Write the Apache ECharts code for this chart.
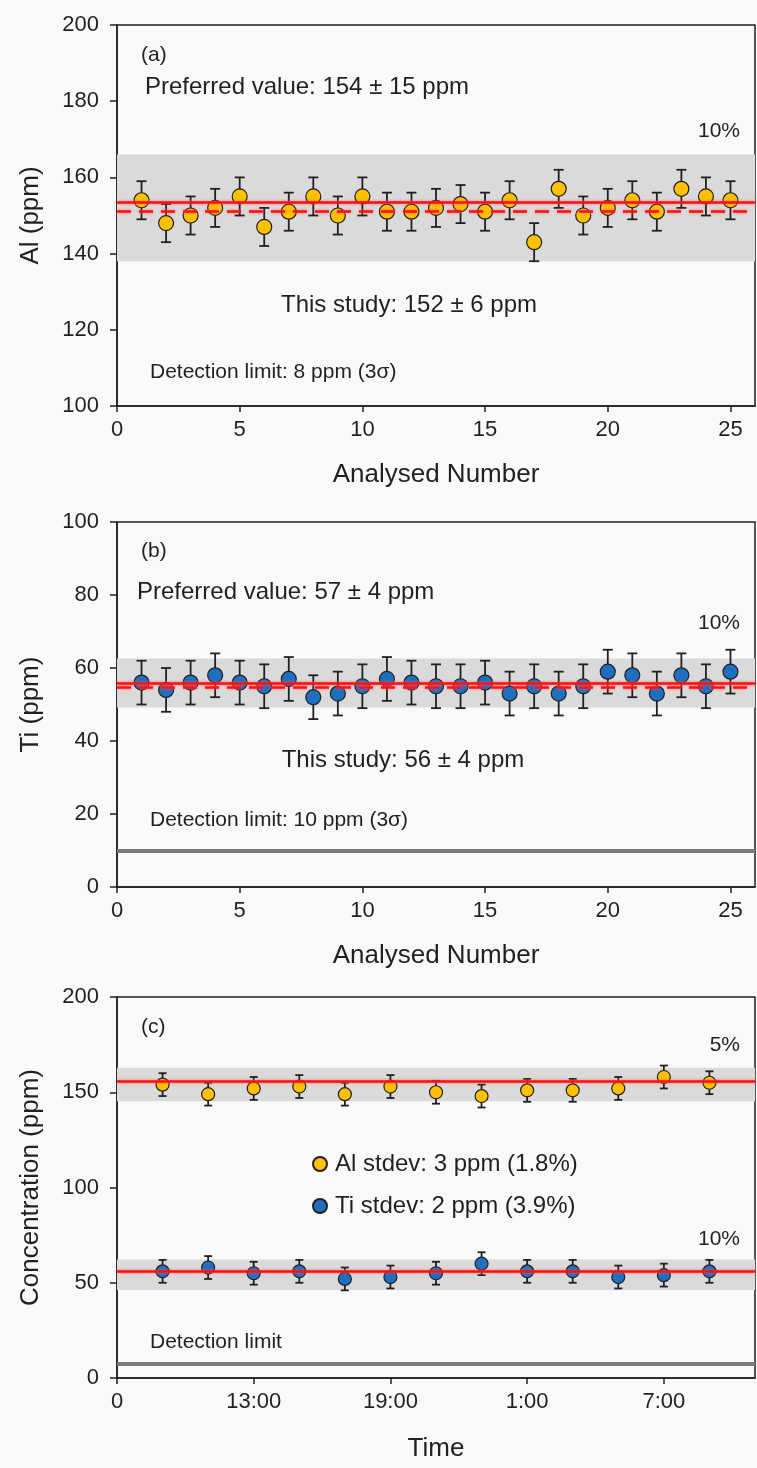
<!DOCTYPE html>
<html>
<head>
<meta charset="utf-8">
<title>Al and Ti repeat analyses</title>
<script src="https://cdn.jsdelivr.net/npm/echarts@6/dist/echarts.min.js"></script>
<style>
  html, body { margin: 0; padding: 0; background: #f9f9f9; }
  #chart { width: 757px; height: 1468px; }
</style>
</head>
<body>
<div id="chart"></div>
<script>
// Panels (a) and (b): 25 repeat analyses, panel (c): one analysis every 2 h.
var analysisNumber = [1, 2, 3, 4, 5, 6, 7, 8, 9, 10, 11, 12, 13, 14, 15, 16, 17, 18, 19, 20, 21, 22, 23, 24, 25];
var alValues = [154, 148, 150, 152, 155, 147, 151, 155, 150, 155, 151, 151, 152, 153, 151, 154, 143, 157, 150, 152, 154, 151, 157, 155, 154];
var alErrors = [5, 5, 5, 5, 5, 5, 5, 5, 5, 5, 5, 5, 5, 5, 5, 5, 5, 5, 5, 5, 5, 5, 5, 5, 5];
var tiValues = [56, 54, 56, 58, 56, 55, 57, 52, 53, 55, 57, 56, 55, 55, 56, 53, 55, 53, 55, 59, 58, 53, 58, 55, 59];
var tiErrors = [6, 6, 6, 6, 6, 6, 6, 6, 6, 6, 6, 6, 6, 6, 6, 6, 6, 6, 6, 6, 6, 6, 6, 6, 6];

// hours after the start of the session (0 = 7:00)
var timeHours = [2, 4, 6, 8, 10, 12, 14, 16, 18, 20, 22, 24, 26];
var alTimeValues = [154, 149, 152, 153, 149, 153, 150, 148, 151, 151, 152, 158, 155];
var alTimeErrors = [6, 6, 6, 6, 6, 6, 6, 6, 6, 6, 6, 6, 6];
var tiTimeValues = [56, 58, 55, 56, 52, 53, 55, 60, 56, 56, 53, 54, 56];
var tiTimeErrors = [6, 6, 6, 6, 6, 6, 6, 6, 6, 6, 6, 6, 6];

// reference lines and bands
var alPreferred = 153.5;
var alStudy = 151.2;
var alBand = [138, 166];
var tiPreferred = 55.7;
var tiStudy = 54.6;
var tiBand = [49.2, 62.6];
var tiDetection = 10;
var alTimeMean = 156;
var alTimeBand = [145.3, 162.9];
var tiTimeMean = 56;
var tiTimeBand = [46.2, 62.2];
var timeDetection = 7.5;

// tick labels
var numberTicks = [0, 5, 10, 15, 20, 25];
var timeTickValues = [0, 6, 12, 18, 24];
var timeTickLabels = ['0', '13:00', '19:00', '1:00', '7:00'];
var alTicks = [100, 120, 140, 160, 180, 200];
var tiTicks = [0, 20, 40, 60, 80, 100];
var concTicks = [0, 50, 100, 150, 200];

var legendNames = ['Al stdev: 3 ppm (1.8%)', 'Ti stdev: 2 ppm (3.9%)'];

var FONT = '"Liberation Sans", Arial, sans-serif';
var INK = '#231f20';
var YELLOW = '#ffc000';
var BLUE = '#1f6fc0';
var RED = '#ff1010';
var BAND = '#dadada';

function zip3(xs, ys, es) {
  var out = [];
  for (var i = 0; i < xs.length; i++) out.push([xs[i], ys[i], es[i]]);
  return out;
}

function xAxisFor(gridIndex, max, ticks, labels, name, gap) {
  return {
    type: 'value', gridIndex: gridIndex, min: 0, max: max,
    name: name, nameLocation: 'middle', nameGap: gap,
    nameTextStyle: { fontFamily: FONT, fontSize: 26, color: INK },
    axisLine: { onZero: false, lineStyle: { color: INK, width: 1.5 } },
    axisTick: { inside: false, length: 6, customValues: ticks, lineStyle: { color: INK, width: 1.5 } },
    axisLabel: {
      customValues: ticks, margin: 13, fontFamily: FONT, fontSize: 22, color: INK,
      formatter: function (v) {
        if (!labels) return String(v);
        var i = ticks.indexOf(v);
        return i < 0 ? '' : labels[i];
      }
    },
    splitLine: { show: false }
  };
}

function yAxisFor(gridIndex, ticks, name) {
  return {
    type: 'value', gridIndex: gridIndex,
    min: ticks[0], max: ticks[ticks.length - 1], interval: ticks[1] - ticks[0],
    name: name, nameLocation: 'middle', nameGap: 73,
    nameTextStyle: { fontFamily: FONT, fontSize: 26, color: INK },
    axisLine: { onZero: false, lineStyle: { color: INK, width: 1.5 } },
    axisTick: { inside: false, length: 7, lineStyle: { color: INK, width: 1.5 } },
    axisLabel: { margin: 18, fontFamily: FONT, fontSize: 22, color: INK },
    splitLine: { show: false }
  };
}

// background band + horizontal lines, carried by an invisible series
function refSeries(gridIndex, bands, lines) {
  return {
    type: 'scatter', xAxisIndex: gridIndex, yAxisIndex: gridIndex,
    data: [], symbolSize: 0, silent: true, z: 1,
    markArea: {
      silent: true,
      itemStyle: { color: BAND, opacity: 1 },
      data: bands.map(function (b) { return [{ yAxis: b[0] }, { yAxis: b[1] }]; })
    },
    markLine: {
      silent: true, symbol: 'none', animation: false,
      label: { show: false },
      data: lines
    }
  };
}

function redLine(v, dashed) {
  return {
    yAxis: v,
    lineStyle: {
      color: RED, width: 2.5, type: dashed ? [14, 8] : 'solid',
      shadowColor: 'rgba(255,90,90,0.9)', shadowBlur: 3
    }
  };
}

function greyLine(v) {
  return { yAxis: v, lineStyle: { color: '#7a7a7a', width: 4, type: 'solid' } };
}

function errorSeries(gridIndex, data, cap) {
  return {
    type: 'custom', xAxisIndex: gridIndex, yAxisIndex: gridIndex,
    data: data, z: 3, silent: true,
    encode: { x: 0, y: 1 },
    renderItem: function (params, api) {
      var x = api.value(0), y = api.value(1), e = api.value(2);
      var hi = api.coord([x, y + e]);
      var lo = api.coord([x, y - e]);
      var st = { stroke: INK, lineWidth: 1.8 };
      return {
        type: 'group',
        children: [
          { type: 'line', shape: { x1: hi[0], y1: hi[1], x2: lo[0], y2: lo[1] }, style: st },
          { type: 'line', shape: { x1: hi[0] - cap, y1: hi[1], x2: hi[0] + cap, y2: hi[1] }, style: st },
          { type: 'line', shape: { x1: lo[0] - cap, y1: lo[1], x2: lo[0] + cap, y2: lo[1] }, style: st }
        ]
      };
    }
  };
}

function pointSeries(gridIndex, name, xs, ys, color, size) {
  return {
    type: 'scatter', name: name, xAxisIndex: gridIndex, yAxisIndex: gridIndex,
    data: xs.map(function (x, i) { return [x, ys[i]]; }),
    symbol: 'circle', symbolSize: size, z: 4,
    itemStyle: { color: color, borderColor: INK, borderWidth: 1.2, opacity: 1 }
  };
}

function txt(x, y, text, size, align) {
  return {
    type: 'text', x: x, y: y, z: 50,
    style: {
      text: text, fontFamily: FONT, fontSize: size, fill: INK,
      align: align || 'left', verticalAlign: 'middle'
    }
  };
}

var chart = echarts.init(document.getElementById('chart'), null, { renderer: 'canvas' });

var gridBase = { left: 117, right: 2, show: true, borderColor: INK, borderWidth: 1.5, backgroundColor: 'transparent' };

chart.setOption({
  backgroundColor: '#f9f9f9',
  animation: false,
  grid: [
    Object.assign({ top: 25, height: 381 }, gridBase),
    Object.assign({ top: 522, height: 365 }, gridBase),
    Object.assign({ top: 997, height: 381 }, gridBase)
  ],
  xAxis: [
    xAxisFor(0, 26, numberTicks, null, 'Analysed Number', 56),
    xAxisFor(1, 26, numberTicks, null, 'Analysed Number', 56),
    xAxisFor(2, 28, timeTickValues, timeTickLabels, 'Time', 58)
  ],
  yAxis: [
    yAxisFor(0, alTicks, 'Al (ppm)'),
    yAxisFor(1, tiTicks, 'Ti (ppm)'),
    yAxisFor(2, concTicks, 'Concentration (ppm)')
  ],
  legend: {
    data: legendNames, orient: 'vertical', left: 307, top: 1147,
    itemWidth: 14, itemHeight: 14, itemGap: 18, icon: 'circle', selectedMode: false,
    textStyle: { fontFamily: FONT, fontSize: 24, color: INK, padding: [0, 0, 0, 3] }
  },
  series: [
    // (a) Al
    refSeries(0, [alBand], [redLine(alStudy, true), redLine(alPreferred, false)]),
    errorSeries(0, zip3(analysisNumber, alValues, alErrors), 5),
    pointSeries(0, 'Al', analysisNumber, alValues, YELLOW, 15),
    // (b) Ti
    refSeries(1, [tiBand], [greyLine(tiDetection), redLine(tiStudy, true), redLine(tiPreferred, false)]),
    errorSeries(1, zip3(analysisNumber, tiValues, tiErrors), 5),
    pointSeries(1, 'Ti', analysisNumber, tiValues, BLUE, 15),
    // (c) time series
    refSeries(2, [alTimeBand, tiTimeBand], [greyLine(timeDetection), redLine(alTimeMean, false), redLine(tiTimeMean, false)]),
    errorSeries(2, zip3(timeHours, alTimeValues, alTimeErrors), 4),
    errorSeries(2, zip3(timeHours, tiTimeValues, tiTimeErrors), 4),
    pointSeries(2, legendNames[0], timeHours, alTimeValues, YELLOW, 13),
    pointSeries(2, legendNames[1], timeHours, tiTimeValues, BLUE, 13)
  ],
  graphic: [
    txt(141, 55, '(a)', 21),
    txt(145, 87, 'Preferred value: 154 \u00b1 15 ppm', 24),
    txt(740, 131, '10%', 21, 'right'),
    txt(409, 305, 'This study: 152 \u00b1 6 ppm', 24, 'center'),
    txt(150, 372, 'Detection limit: 8 ppm (3\u03c3)', 21),

    txt(141, 551, '(b)', 21),
    txt(137, 592, 'Preferred value: 57 \u00b1 4 ppm', 24),
    txt(740, 623, '10%', 21, 'right'),
    txt(403, 760, 'This study: 56 \u00b1 4 ppm', 24, 'center'),
    txt(150, 820, 'Detection limit: 10 ppm (3\u03c3)', 21),

    txt(141, 1027, '(c)', 21),
    txt(740, 1045, '5%', 21, 'right'),
    txt(740, 1239, '10%', 21, 'right'),
    txt(150, 1342, 'Detection limit', 21)
  ]
});
</script>
</body>
</html>
